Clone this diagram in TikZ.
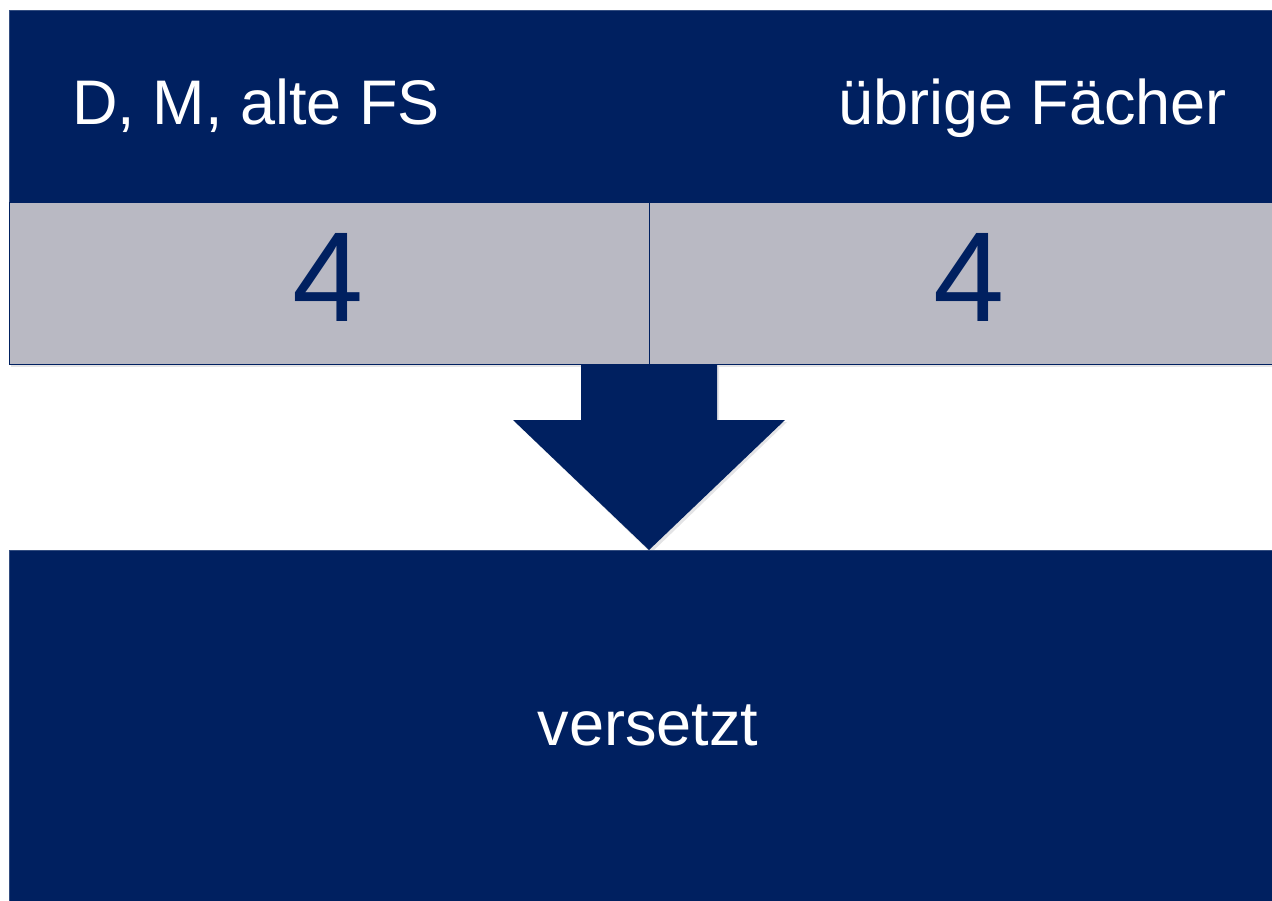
\documentclass[tikz,border=0pt]{standalone}
\usepackage{fontspec}
\setmainfont{Liberation Sans}
\definecolor{navy}{RGB}{0,32,96}
\definecolor{greybox}{RGB}{185,185,195}
\definecolor{shadowc}{RGB}{228,228,230}
\begin{document}
\begin{tikzpicture}[x=1pt,y=-1pt,
  panel/.style={fill=navy,draw=navy!80!white,line width=0.8pt},
  cell/.style={fill=greybox,draw=navy,line width=0.8pt},
  bigtxt/.style={text=white,inner sep=0pt,font=\fontsize{63}{70}\selectfont},
  numtxt/.style={text=navy,inner sep=0pt,font=\fontsize{128}{140}\selectfont}]
\useasboundingbox (0,0) rectangle (1272,900);
\begin{scope}
\clip (0,0) rectangle (1272,900);
% shadows
\fill[shadowc] (11,13) rectangle (1290,367);
\fill[shadowc] (583,367) -- (719,367) -- (719,422) -- (787,422) -- (651,553) -- (515,422) -- (583,422) -- cycle;
% top header
\path[panel] (9,10) rectangle (1290,202);
% grey cells
\path[cell] (9,202) rectangle (649,364);
\path[cell] (649,202) rectangle (1290,364);
\node[numtxt] (n1) at (328.5,277) {4};
\node[numtxt] (n2) at (969,277) {4};
% arrow
\path[fill=navy] (581,364) -- (717,364) -- (717,420) -- (785,420) -- (649,550) -- (513,420) -- (581,420) -- cycle;
% bottom panel
\path[panel] (9,550) rectangle (1290,905);
\end{scope}
\node[bigtxt,anchor=base west] (l1) at (72,124) {D, M, alte FS};
\node[bigtxt,anchor=base east] (l2) at (1227,124) {übrige Fächer};
\node[bigtxt,anchor=base] (v) at (648,745) {versetzt};
\end{tikzpicture}
\end{document}
